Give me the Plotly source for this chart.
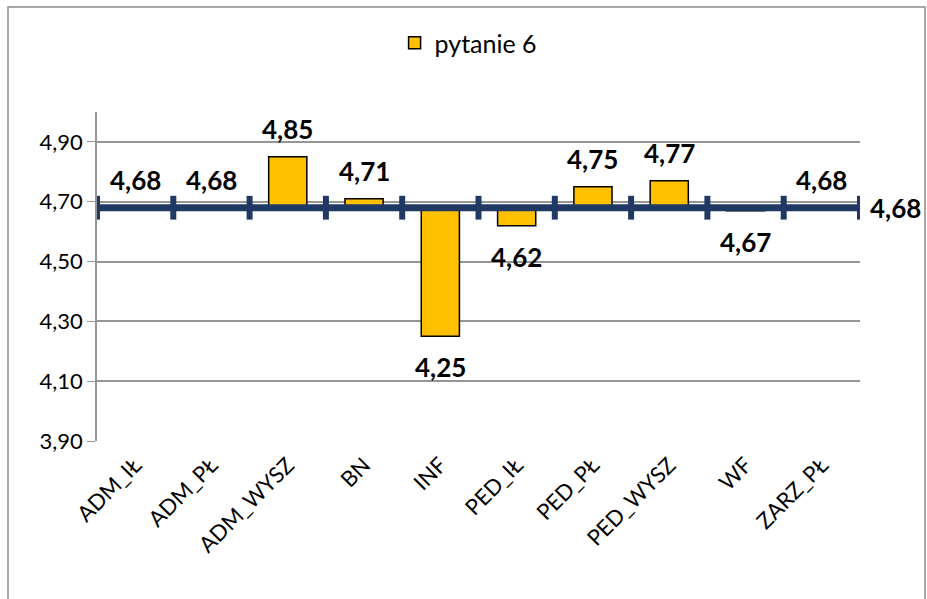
import plotly.graph_objects as go

categories = ["ADM_IŁ", "ADM_PŁ", "ADM_WYSZ", "BN", "INF", "PED_IŁ", "PED_PŁ", "PED_WYSZ", "WF", "ZARZ_PŁ"]
values = [4.68, 4.68, 4.85, 4.71, 4.25, 4.62, 4.75, 4.77, 4.67, 4.68]
average = 4.68
series_name = "pytanie 6"
y_ticks = [3.90, 4.10, 4.30, 4.50, 4.70, 4.90]

FONT = "Lato"
n = len(categories)
xpos = [i + 0.5 for i in range(n)]

def fmt(v):
    return f"{v:.2f}".replace(".", ",")

W, H = 927, 599
L, T, R, B = 97, 112, 67, 158
PW, PH = W - L - R, H - T - B

fig = go.Figure()
fig.add_trace(go.Bar(
    x=xpos, y=[v - average for v in values], base=average,
    width=0.5, name=series_name,
    marker=dict(color="#FFC000", line=dict(color="#000000", width=1.5)),
    hoverinfo="skip",
))
fig.add_trace(go.Scatter(
    x=list(range(n + 1)), y=[average] * (n + 1),
    mode="lines+markers", showlegend=False,
    line=dict(color="#1F3864", width=7),
    marker=dict(symbol="line-ns", size=17, line=dict(color="#1F3864", width=6)),
    hoverinfo="skip",
))

annotations = []
for x, v in zip(xpos, values):
    up = v >= average
    annotations.append(dict(
        x=x, y=v, xref="x", yref="y", text=fmt(v), showarrow=False,
        yshift=28 if up else -31,
        font=dict(family=FONT, size=26, color="#000000", weight="bold"),
    ))
annotations.append(dict(
    x=n, y=average, xref="x", yref="y", text=fmt(average), showarrow=False,
    xanchor="left", xshift=8,
    font=dict(family=FONT, size=26, color="#000000", weight="bold"),
))

fig.update_layout(
    width=W, height=H,
    margin=dict(l=L, r=R, t=T, b=B, autoexpand=False),
    paper_bgcolor="white", plot_bgcolor="white",
    font=dict(family=FONT, color="#000000"),
    showlegend=True,
    legend=dict(orientation="h", x=0.487, xanchor="center", y=(T + PH - 43) / PH, yanchor="middle",
                bgcolor="rgba(0,0,0,0)",
                font=dict(family=FONT, size=25, color="#000000"),
                itemwidth=30),
    annotations=annotations,
    shapes=[dict(type="rect", xref="paper", yref="paper",
                 x0=(8 - L) / PW, x1=(925 - L) / PW,
                 y0=-0.6, y1=(T + PH - 7) / PH,
                 line=dict(color="#8C8C8C", width=1.5), fillcolor="rgba(0,0,0,0)",
                 layer="below")],
)
fig.update_xaxes(
    range=[0, n], tickvals=xpos, ticktext=categories, tickangle=-45,
    tickfont=dict(family=FONT, size=22, color="#000000"),
    showgrid=False, zeroline=False, showline=False, ticks="",
    ticklabelstandoff=6, automargin=False,
)
fig.update_yaxes(
    range=[3.9, 5.0], tickvals=y_ticks, ticktext=[fmt(t) for t in y_ticks],
    tickfont=dict(family=FONT, size=22, color="#000000"),
    showgrid=True, gridcolor="#969696", gridwidth=1.5,
    showline=True, linecolor="#969696", linewidth=1.5,
    ticks="outside", ticklen=8, tickcolor="#969696", zeroline=False,
    automargin=False,
)
fig.write_html(
    "out.html",
    config={"displayModeBar": False},
    post_script="document.body.style.margin='0';document.body.style.overflow='hidden';",
)
